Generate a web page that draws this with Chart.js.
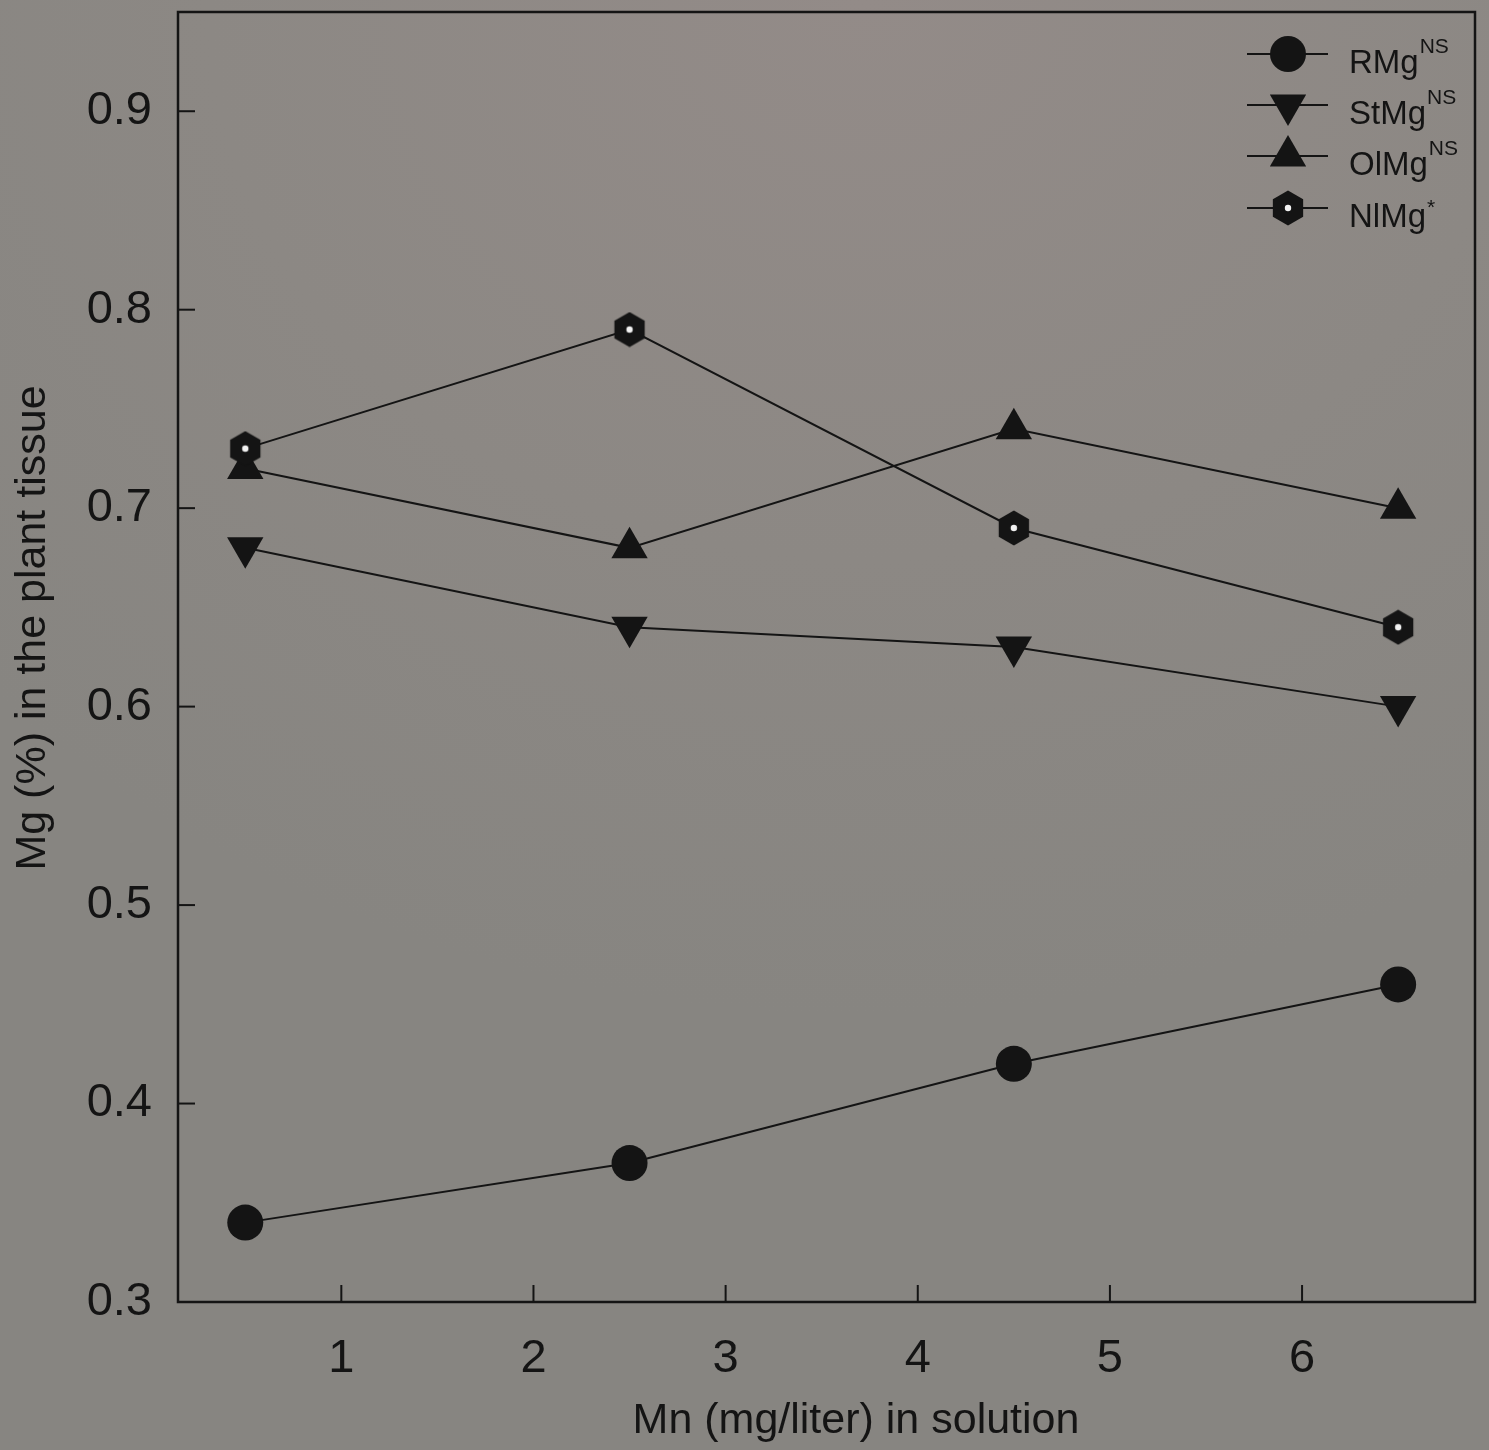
<!DOCTYPE html>
<html>
<head>
<meta charset="utf-8">
<script src="https://cdn.jsdelivr.net/npm/chart.js@4/dist/chart.umd.min.js"></script>
<style>
  html, body { margin: 0; padding: 0; }
  body {
    width: 1489px; height: 1450px; overflow: hidden;
    background: radial-gradient(ellipse 80% 70% at 58% 0%, #938b88 0%, #8c8884 55%, #878581 100%);
  }
  #wrap { position: relative; width: 1489px; height: 1450px; }
</style>
</head>
<body>
<div id="wrap"><canvas id="c" width="1489" height="1450"></canvas></div>
<script>
// ---- data ----
const mnLevels = [0.5, 2.5, 4.5, 6.5];
const rootMg   = [0.34, 0.37, 0.42, 0.46];
const stemMg   = [0.68, 0.64, 0.63, 0.60];
const oldLeafMg = [0.72, 0.68, 0.74, 0.70];
const newLeafMg = [0.73, 0.79, 0.69, 0.64];
const seriesNames = ['RMg', 'StMg', 'OlMg', 'NlMg'];
const seriesSup = ['NS', 'NS', 'NS', '*'];
const xTickValues = [1, 2, 3, 4, 5, 6];
const yTickValues = [0.3, 0.4, 0.5, 0.6, 0.7, 0.8, 0.9];
const xTitle = 'Mn (mg/liter) in solution';
const yTitle = 'Mg (%) in the plant tissue';

const INK = '#141414';
const FONT = "'Liberation Sans', Arial, Helvetica, sans-serif";

function makeHex(size) {
  const cv = document.createElement('canvas');
  cv.width = size; cv.height = size;
  const g = cv.getContext('2d');
  const c = size / 2, r = size / 2 - 0.5;
  g.beginPath();
  for (let i = 0; i < 6; i++) {
    const a = -Math.PI / 2 + i * Math.PI / 3;
    const px = c + r * Math.cos(a), py = c + r * Math.sin(a);
    if (i === 0) g.moveTo(px, py); else g.lineTo(px, py);
  }
  g.closePath();
  g.fillStyle = INK; g.fill();
  g.beginPath(); g.arc(c, c, 3.2, 0, Math.PI * 2);
  g.fillStyle = '#f2f2f2'; g.fill();
  return cv;
}
const hexImg = makeHex(36);

function pts(ys) { return mnLevels.map((x, i) => ({ x: x, y: ys[i] })); }

const styles = [
  { pointStyle: 'circle', pointRadius: 18, rotation: 0 },
  { pointStyle: 'triangle', pointRadius: 21, rotation: 180 },
  { pointStyle: 'triangle', pointRadius: 21, rotation: 0 },
  { pointStyle: hexImg, pointRadius: 18, rotation: 0 }
];

const datasets = [rootMg, stemMg, oldLeafMg, newLeafMg].map((ys, i) => ({
  label: seriesNames[i],
  data: pts(ys),
  borderColor: INK,
  backgroundColor: INK,
  borderWidth: 2,
  pointBackgroundColor: INK,
  pointBorderColor: INK,
  pointBorderWidth: 0,
  pointStyle: styles[i].pointStyle,
  pointRadius: styles[i].pointRadius,
  pointRotation: styles[i].rotation,
  tension: 0,
  clip: false,
  order: 3 - i
}));

const framePlugin = {
  id: 'frame',
  afterDraw(chart) {
    const ctx = chart.ctx, a = chart.chartArea;
    const xs = chart.scales.x, ys = chart.scales.y;
    ctx.save();
    ctx.strokeStyle = INK;
    ctx.lineWidth = 2.5;
    ctx.strokeRect(a.left, a.top, a.right - a.left, a.bottom - a.top);
    ctx.lineWidth = 2;
    const tl = 17;
    xTickValues.forEach(v => {
      const px = xs.getPixelForValue(v);
      ctx.beginPath(); ctx.moveTo(px, a.bottom); ctx.lineTo(px, a.bottom - tl); ctx.stroke();
    });
    yTickValues.forEach(v => {
      const py = ys.getPixelForValue(v);
      ctx.beginPath(); ctx.moveTo(a.left, py); ctx.lineTo(a.left + tl, py); ctx.stroke();
    });
    // axis titles
    ctx.fillStyle = INK;
    ctx.font = '43px ' + FONT;
    ctx.textAlign = 'center'; ctx.textBaseline = 'middle';
    ctx.fillText(xTitle, 856, 1421);
    ctx.save();
    ctx.translate(33, 628);
    ctx.rotate(-Math.PI / 2);
    ctx.fillText(yTitle, 0, 0);
    ctx.restore();
    // legend
    const rowY = [54, 105, 156, 208];
    const lx0 = 1247, lx1 = 1328, mx = 1288, tx = 1349;
    rowY.forEach((y, i) => {
      ctx.strokeStyle = INK; ctx.lineWidth = 2;
      ctx.beginPath(); ctx.moveTo(lx0, y); ctx.lineTo(lx1, y); ctx.stroke();
      ctx.fillStyle = INK;
      if (i === 0) {
        ctx.beginPath(); ctx.arc(mx, y, 18, 0, Math.PI * 2); ctx.fill();
      } else if (i === 1 || i === 2) {
        const r = 21, s = (i === 1) ? -1 : 1;
        ctx.beginPath();
        ctx.moveTo(mx, y - s * r);
        ctx.lineTo(mx - r * Math.sqrt(3) / 2, y + s * r / 2);
        ctx.lineTo(mx + r * Math.sqrt(3) / 2, y + s * r / 2);
        ctx.closePath(); ctx.fill();
      } else {
        ctx.drawImage(hexImg, mx - 18, y - 18);
      }
      ctx.font = '33px ' + FONT;
      ctx.textAlign = 'left'; ctx.textBaseline = 'alphabetic';
      const name = seriesNames[i];
      ctx.fillText(name, tx, y + 19);
      const w = ctx.measureText(name).width;
      ctx.font = '21px ' + FONT;
      ctx.fillText(seriesSup[i], tx + w + 1, y + (seriesSup[i] === '*' ? 6 : -1));
    });
    ctx.restore();
  }
};

new Chart(document.getElementById('c'), {
  type: 'line',
  data: { datasets },
  options: {
    responsive: false,
    animation: false,
    devicePixelRatio: 1,
    layout: { autoPadding: false, padding: { top: 12, right: 14, left: 0, bottom: 0 } },
    plugins: { legend: { display: false }, tooltip: { enabled: false } },
    scales: {
      x: {
        type: 'linear', min: 0.15, max: 6.9,
        afterBuildTicks(s) { s.ticks = xTickValues.map(v => ({ value: v })); },
        afterFit(s) { s.height = 148; s.paddingLeft = 0; s.paddingRight = 0; },
        grid: { display: false, drawTicks: false },
        border: { display: false },
        ticks: { color: INK, padding: 29, font: { family: FONT, size: 47 }, maxRotation: 0, autoSkip: false,
                 callback: v => String(v) },
        title: { display: false, text: xTitle }
      },
      y: {
        type: 'linear', min: 0.3, max: 0.95,
        afterBuildTicks(s) { s.ticks = yTickValues.map(v => ({ value: v })); },
        afterFit(s) { s.width = 178; s.paddingTop = 0; s.paddingBottom = 0; },
        grid: { display: false, drawTicks: false },
        border: { display: false },
        ticks: { color: INK, padding: 26, font: { family: FONT, size: 47 }, autoSkip: false,
                 callback: v => v.toFixed(1) },
        title: { display: false, text: yTitle }
      }
    }
  },
  plugins: [framePlugin]
});
</script>
</body>
</html>
